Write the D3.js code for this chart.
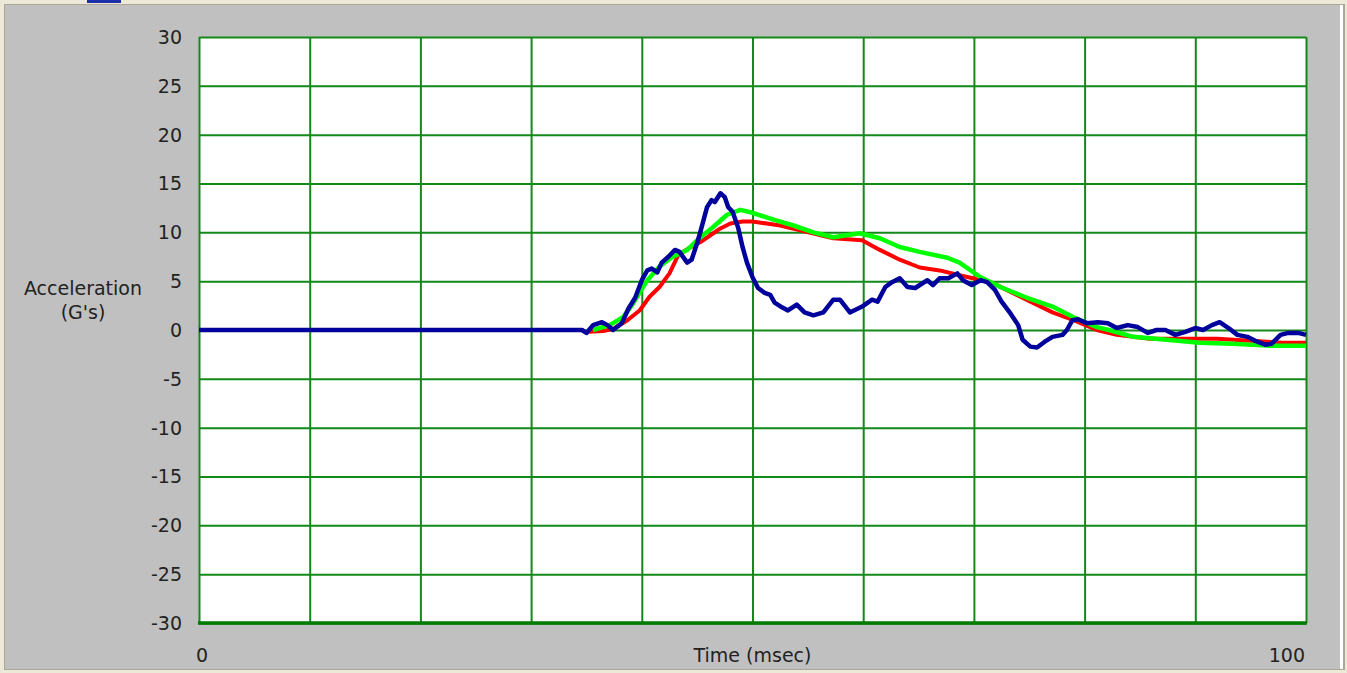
<!DOCTYPE html>
<html><head><meta charset="utf-8">
<script src="https://cdn.jsdelivr.net/npm/d3@7"></script>
<style>html,body{margin:0;padding:0;background:#ece9d8;}svg{display:block;}</style>
</head><body>
<svg id="c" width="1347" height="673"></svg>
<script>
const xTicks = [0,10,20,30,40,50,60,70,80,90,100];
const yTicks = [30,25,20,15,10,5,0,-5,-10,-15,-20,-25,-30];
const blueT = [0,34.6,35.0,35.6,36.4,36.9,37.4,38.2,38.8,39.4,40.0,40.5,40.9,41.4,41.8,42.4,43.0,43.4,44.1,44.5,45.0,45.4,45.9,46.3,46.6,47.1,47.5,47.8,48.2,48.7,49.1,49.5,50.0,50.5,51.1,51.6,52.0,52.7,53.2,54.0,54.7,55.5,56.4,57.3,57.9,58.8,59.9,60.8,61.3,62.0,62.6,63.3,64.0,64.7,65.8,66.3,66.9,67.7,68.5,69.0,69.8,70.6,71.2,71.9,72.5,73.3,74.0,74.4,75.1,75.7,76.4,77.1,78.0,78.4,78.9,79.4,80.2,81.2,82.1,82.9,83.9,84.8,85.7,86.5,87.3,88.2,89.1,90.0,90.7,91.5,92.2,93.0,93.8,94.7,95.6,96.3,96.9,97.7,98.4,99.3,100];
const blueG = [0,0,-0.3,0.5,0.8,0.5,0,0.7,2.2,3.3,5.1,6.1,6.3,5.9,6.9,7.5,8.2,8.0,6.9,7.2,8.9,10.5,12.6,13.3,13.1,14.0,13.6,12.6,12.1,10.5,8.5,6.9,5.4,4.3,3.8,3.6,2.8,2.3,2.0,2.6,1.8,1.5,1.8,3.1,3.1,1.8,2.4,3.1,2.9,4.4,4.9,5.3,4.4,4.3,5.1,4.6,5.3,5.3,5.8,5.1,4.6,5.1,4.9,4.1,2.9,1.7,0.5,-1.0,-1.7,-1.8,-1.2,-0.7,-0.5,0,1.0,1.1,0.7,0.8,0.7,0.2,0.5,0.3,-0.3,0,0,-0.5,-0.2,0.2,0,0.5,0.8,0.2,-0.5,-0.7,-1.2,-1.5,-1.4,-0.5,-0.3,-0.3,-0.5];
const redT = [34.8,36.5,37.4,38.7,39.8,40.7,41.6,42.5,43.3,44.3,45.3,46.2,47.1,48.0,49.1,50.0,51.3,52.5,54.3,57.3,59.9,61.5,63.3,65.1,66.9,68.7,69.9,71.7,73.5,75.3,77.1,79.0,81.1,82.9,85.9,88.9,92.0,94.9,97.9,100];
const redG = [-0.2,-0.1,0.1,1.0,2.0,3.4,4.4,5.8,7.7,8.4,9.0,9.7,10.4,10.9,11.1,11.1,10.9,10.7,10.2,9.4,9.2,8.2,7.2,6.4,6.1,5.6,5.3,4.8,3.8,2.8,1.8,1.0,0,-0.5,-0.9,-0.9,-0.9,-1.1,-1.3,-1.3];
const greenT = [35.6,37.1,38.3,39.2,40.5,41.6,42.8,44.1,45.3,46.4,47.7,48.9,50.0,51.9,53.7,55.5,57.3,59.7,61.5,63.3,65.1,67.6,68.7,70.6,72.4,74.8,77.1,79.0,81.1,82.2,84.4,87.4,90.4,93.4,96.5,100];
const greenG = [0,0.5,1.3,2.7,5.1,6.5,7.5,8.2,9.5,10.5,11.8,12.3,12.0,11.3,10.7,10.0,9.5,9.9,9.4,8.5,8.0,7.4,6.9,5.4,4.4,3.3,2.4,1.3,0.3,0,-0.7,-1.0,-1.3,-1.4,-1.6,-1.6];

const svg = d3.select("#c");
const W = 1347, H = 673;
// window frame
svg.append("rect").attr("x",0).attr("y",0).attr("width",W).attr("height",H).attr("fill","#ece9d8");
svg.append("rect").attr("x",87).attr("y",0).attr("width",34).attr("height",3).attr("fill","#1c2ea8");
svg.append("rect").attr("x",4).attr("y",4).attr("width",1341).attr("height",666).attr("fill","#aca899");
svg.append("rect").attr("x",5).attr("y",5).attr("width",1338).attr("height",664).attr("fill","#ffffff");
svg.append("rect").attr("x",5).attr("y",5).attr("width",1335).attr("height",664).attr("fill","#c0c0c0");

const x = d3.scaleLinear().domain([0,100]).range([199,1306]);
const y = d3.scaleLinear().domain([-30,30]).range([623,37]);

svg.append("rect").attr("x",x(0)).attr("y",y(30)).attr("width",x(100)-x(0)).attr("height",y(-30)-y(30)).attr("fill","#ffffff");

const gridColor = "#13891a";
const gx = svg.append("g").attr("transform",`translate(0,${y(-30)})`)
  .call(d3.axisBottom(x).tickValues(xTicks).tickSize(-(y(-30)-y(30))).tickFormat(""));
gx.select(".domain").remove();
gx.selectAll("line").attr("stroke",gridColor).attr("stroke-width",2);
const gy = svg.append("g").attr("transform",`translate(${x(0)},0)`)
  .call(d3.axisLeft(y).tickValues(yTicks).tickSize(-(x(100)-x(0))).tickFormat(""));
gy.select(".domain").remove();
gy.selectAll("line").attr("stroke",gridColor).attr("stroke-width",2);
// thicker bottom border
svg.append("line").attr("x1",x(0)-1).attr("x2",x(100)+1).attr("y1",y(-30)).attr("y2",y(-30))
  .attr("stroke","#007a00").attr("stroke-width",3.5);

const font = "'DejaVu Sans', Verdana, sans-serif";
const fs = 19;
svg.append("g").selectAll("text").data(yTicks).join("text")
  .attr("x",182).attr("y",d=>y(d)).attr("dy","0.36em").attr("text-anchor","end")
  .attr("font-family",font).attr("font-size",fs).attr("fill","#222").text(d=>d);
svg.append("text").attr("x",x(0)-3).attr("y",655).attr("dy","0.36em").attr("text-anchor","start")
  .attr("font-family",font).attr("font-size",fs).attr("fill","#222").text(xTicks[0]);
svg.append("text").attr("x",x(100)-1).attr("y",655).attr("dy","0.36em").attr("text-anchor","end")
  .attr("font-family",font).attr("font-size",fs).attr("fill","#222").text(xTicks[xTicks.length-1]);
svg.append("text").attr("x",(x(0)+x(100))/2).attr("y",655).attr("dy","0.36em").attr("text-anchor","middle")
  .attr("font-family",font).attr("font-size",fs).attr("fill","#222").text("Time (msec)");
svg.append("text").attr("x",83).attr("y",288).attr("dy","0.36em").attr("text-anchor","middle")
  .attr("font-family",font).attr("font-size",fs).attr("fill","#222").text("Acceleration");
svg.append("text").attr("x",83).attr("y",312).attr("dy","0.36em").attr("text-anchor","middle")
  .attr("font-family",font).attr("font-size",fs).attr("fill","#222").text("(G's)");

const line = d3.line().x(d=>x(d[0])).y(d=>y(d[1])).curve(d3.curveLinear);
const series = [
  {t:redT, g:redG, c:"#ff0000", w:4},
  {t:greenT, g:greenG, c:"#00ff00", w:4.5},
  {t:blueT, g:blueG, c:"#00009c", w:4.5}
];
series.forEach(s=>{
  svg.append("path").datum(s.t.map((t,i)=>[t,s.g[i]]))
    .attr("d",line).attr("fill","none").attr("stroke",s.c).attr("stroke-width",s.w)
    .attr("stroke-linejoin","round").attr("stroke-linecap","butt");
});
</script>
</body></html>
